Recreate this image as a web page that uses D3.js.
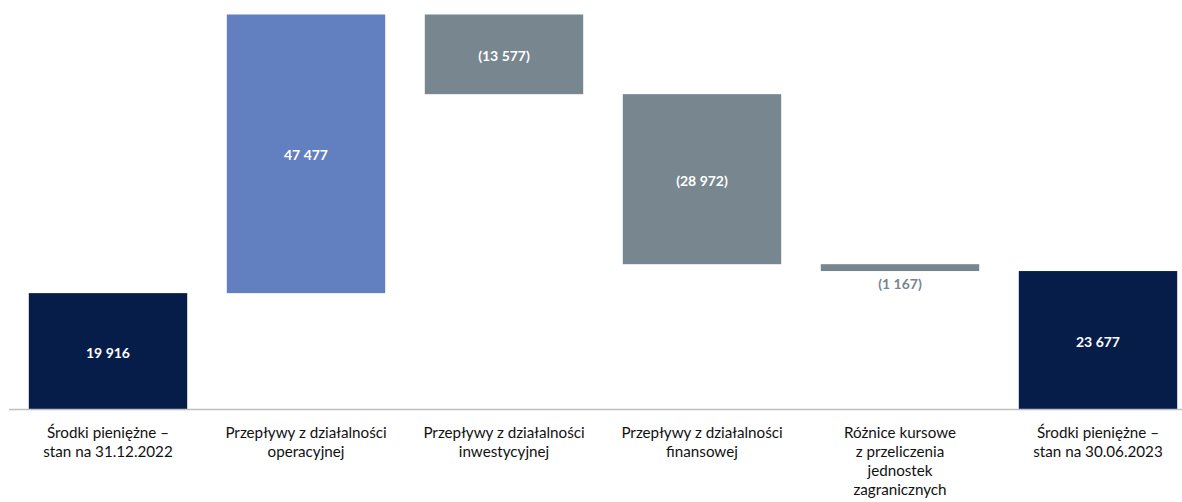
<!DOCTYPE html>
<html>
<head>
<meta charset="utf-8">
<script src="https://cdn.jsdelivr.net/npm/d3@7"></script>
<style>
  html, body { margin: 0; padding: 0; background: #fff; }
  svg { display: block; }
  .cat { font-family: Lato, "Open Sans", sans-serif; font-size: 15.2px; fill: #111; }
  .val { font-family: Lato, "Open Sans", sans-serif; font-size: 14px; font-weight: bold; }
</style>
</head>
<body>
<svg id="chart" width="1182" height="502"></svg>
<script>
// Cash flow bridge (waterfall), values in thousands
const categories = [
  "Środki pieniężne –|stan na 31.12.2022",
  "Przepływy z działalności|operacyjnej",
  "Przepływy z działalności|inwestycyjnej",
  "Przepływy z działalności|finansowej",
  "Różnice kursowe|z przeliczenia|jednostek|zagranicznych",
  "Środki pieniężne –|stan na 30.06.2023"
];
const values = [19916, 47477, -13577, -28972, -1167, 23677];
const kinds = ["total", "delta", "delta", "delta", "delta", "total"];

const W = 1182, H = 502;
const baseY = 410, topY = 14.5;

// running start / end of every step
let running = 0;
const steps = categories.map((c, i) => {
  const v = values[i];
  let start, end;
  if (kinds[i] === "total") { start = 0; end = v; running = v; }
  else { start = running; end = running + v; running = end; }
  return { cat: c, value: v, kind: kinds[i], lo: Math.min(start, end), hi: Math.max(start, end) };
});

const maxVal = d3.max(steps, d => d.hi);

const x = d3.scaleBand()
  .domain(categories)
  .range([9, 1197])
  .paddingInner(0.2)
  .paddingOuter(0.1);

const y = d3.scaleLinear()
  .domain([0, maxVal])
  .range([baseY, topY]);

const color = d => d.kind === "total" ? "#071d49" : (d.value > 0 ? "#627fbf" : "#77868f");

const svg = d3.select("#chart");

svg.append("g").selectAll("rect")
  .data(steps)
  .join("rect")
  .attr("x", d => x(d.cat))
  .attr("width", x.bandwidth())
  .attr("y", d => y(d.hi))
  .attr("height", d => y(d.lo) - y(d.hi))
  .attr("fill", color);

// baseline
svg.append("line")
  .attr("x1", 9).attr("x2", W)
  .attr("y1", baseY - 0.5).attr("y2", baseY - 0.5)
  .attr("stroke", "#bfbfbf").attr("stroke-width", 1.5);

const fmt = v => {
  const s = d3.format(",")(Math.abs(v)).replace(/,/g, " ");
  return v < 0 ? "(" + s + ")" : s;
};

// value labels: inside the bar, or just below when the bar is too thin
svg.append("g").selectAll("text")
  .data(steps)
  .join("text")
  .attr("class", "val")
  .attr("text-anchor", "middle")
  .attr("dominant-baseline", "central")
  .attr("x", d => x(d.cat) + x.bandwidth() / 2)
  .attr("y", d => {
    const h = y(d.lo) - y(d.hi);
    return h > 30 ? (y(d.lo) + y(d.hi)) / 2 + 1 : y(d.lo) + 12;
  })
  .attr("fill", d => (y(d.lo) - y(d.hi)) > 30 ? "#ffffff" : "#77868f")
  .text(d => fmt(d.value));

// category labels
const catG = svg.append("g");
steps.forEach(d => {
  const t = catG.append("text")
    .attr("class", "cat")
    .attr("text-anchor", "middle")
    .attr("x", x(d.cat) + x.bandwidth() / 2)
    .attr("y", 438);
  d.cat.split("|").forEach((line, i) => {
    t.append("tspan")
      .attr("x", x(d.cat) + x.bandwidth() / 2)
      .attr("dy", i === 0 ? 0 : 19)
      .text(line);
  });
});
</script>
</body>
</html>
